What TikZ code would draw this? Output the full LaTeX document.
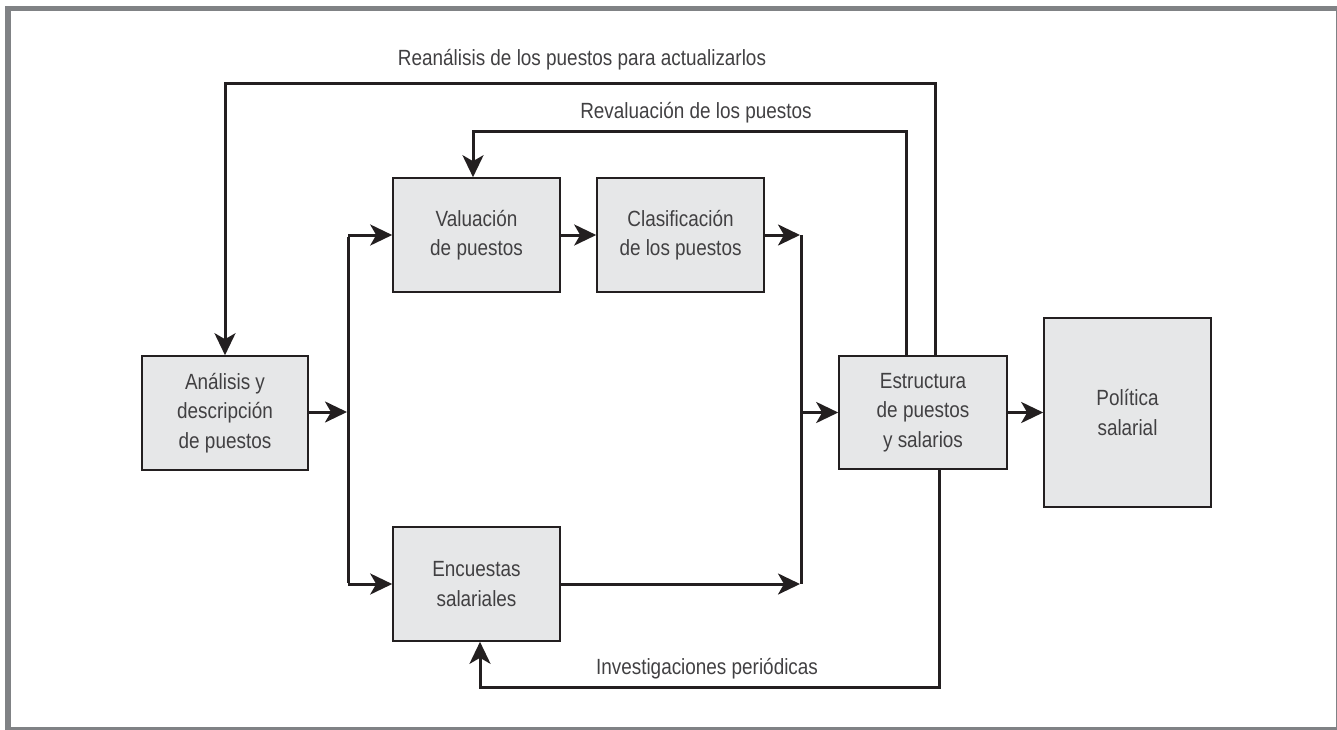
\documentclass[tikz,border=0pt]{standalone}
\usepackage{fontspec}
\setmainfont{Liberation Sans}[FakeStretch=0.86]
\usetikzlibrary{arrows.meta}
\definecolor{framegray}{HTML}{808285}
\definecolor{boxfill}{HTML}{E6E7E8}
\definecolor{linecol}{HTML}{231F20}
\definecolor{txt}{HTML}{414042}
\begin{document}
\begin{tikzpicture}[x=1pt,y=-1pt,
 box/.style={draw=linecol, line width=1.6pt, fill=boxfill, inner sep=0pt, align=center, text=txt, font=\fontsize{22}{29.5}\selectfont},
 conn/.style={draw=linecol, line width=3pt},
 arr/.style={conn, -{Stealth[length=22pt,width=21pt,inset=6pt]}},
 lbl/.style={text=txt, font=\fontsize{22}{26}\selectfont, inner sep=0pt}]
\useasboundingbox (0,0) rectangle (1337,729);
\draw[framegray, line width=5.5pt] (8,8.5) rectangle (1338.5,729.8);

\node[box, minimum width=166pt, minimum height=114pt] (ana) at (225,413) {Análisis y\\descripción\\de puestos};
\node[box, minimum width=167pt, minimum height=114pt] (val) at (476.5,235) {Valuación\\de puestos};
\node[box, minimum width=167pt, minimum height=114pt] (cla) at (680.5,235) {Clasificación\\de los puestos};
\node[box, minimum width=167pt, minimum height=114pt] (enc) at (476.5,584) {Encuestas\\salariales};
\node[box, minimum width=168pt, minimum height=113pt] (est) at (923,412.5) {Estructura\\de puestos\\y salarios};
\node[box, minimum width=167pt, minimum height=189pt] (pol) at (1127.5,412.5) {Política\\salarial};

% left bus
\coordinate (lt) at (348,235);
\coordinate (lm) at (348,412);
\coordinate (lb) at (348,584);
\draw[conn] ([yshift=-1.5pt]lt) -- ([yshift=1.5pt]lb);
\draw[arr] (ana.east |- lm) -- ([xshift=-1pt]lm);
\draw[arr] (lt) -- (val.west);
\draw[arr] (lb) -- (enc.west);
\draw[arr] (val.east) -- (cla.west);

% right bus
\coordinate (rt) at (801.5,235);
\coordinate (rm) at (801.5,412.5);
\coordinate (rb) at (801.5,584);
\draw[conn] (rt) -- (rb);
\draw[arr] (cla.east) -- ([xshift=-1.5pt]rt);
\draw[arr] (enc.east) -- ([xshift=-1.5pt]rb);
\draw[arr] (rm) -- (est.west);
\draw[arr] (est.east) -- (pol.west);

% feedback loops
\coordinate (c1) at (225,83);
\coordinate (c2) at (473,131);
\coordinate (c3) at (480,687);
\draw[arr] ([xshift=12pt]est.north) |- (c1) -- (ana.north);
\draw[arr] ([xshift=-17pt]est.north) |- (c2) -- (c2 |- val.north);
\draw[arr] ([xshift=16pt]est.south) |- (c3) -- (c3 |- enc.south);

\node[lbl] (t1) at (582,60) {Reanálisis de los puestos para actualizarlos};
\node[lbl] (t2) at (696,113) {Revaluación de los puestos};
\node[lbl] (t3) at (707,669) {Investigaciones periódicas};
\end{tikzpicture}
\end{document}
